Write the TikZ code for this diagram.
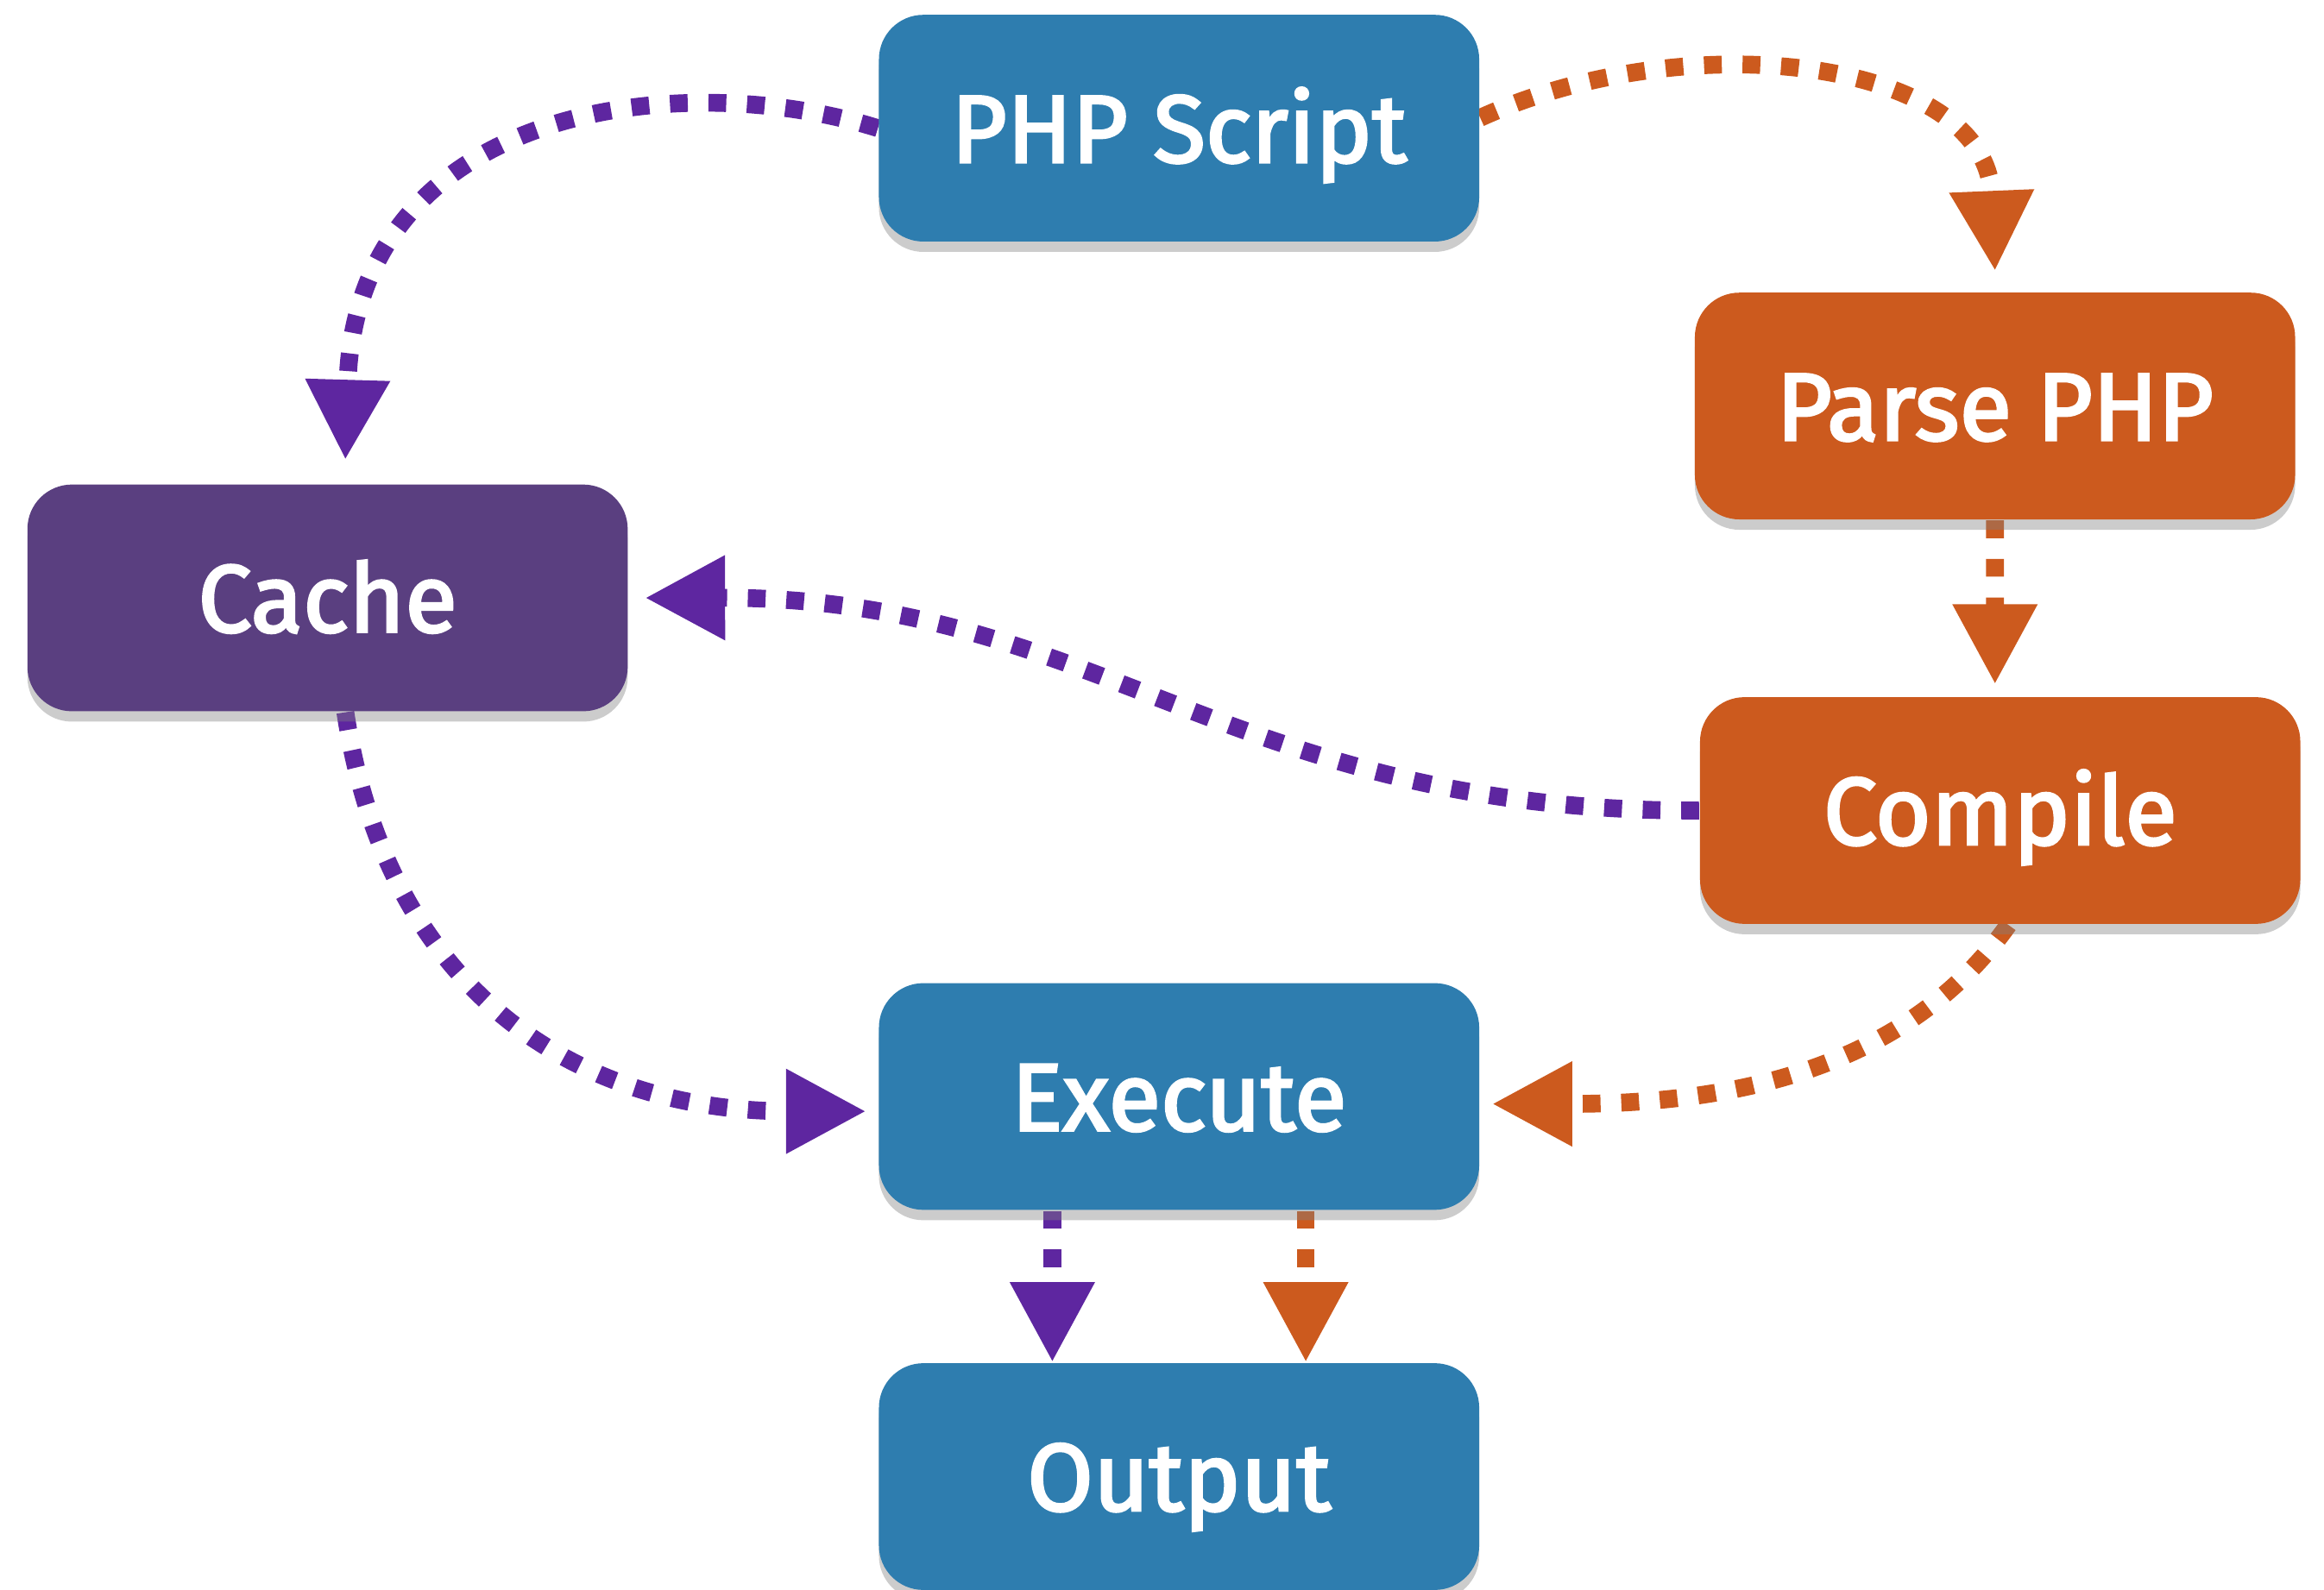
\documentclass[tikz,border=0pt]{standalone}
\usepackage{fontspec}
\setmainfont{Fira Sans}
\newfontfamily\boxfont{Fira Sans}[FakeBold=2.6]
\usepackage{xcolor}
\usepackage{tikz}
\usetikzlibrary{calc}
\usetikzlibrary{arrows.meta}
\usetikzlibrary{shadows}
\usetikzlibrary{backgrounds}
\definecolor{phpblue}{RGB}{46,125,175}
\definecolor{phporange}{RGB}{204,90,30}
\definecolor{cachepurple}{RGB}{90,63,128}
\definecolor{flowpurple}{RGB}{94,38,160}

\begin{document}
\begin{tikzpicture}[transform shape,scale=1,
		box/.style={rounded corners=0.3cm,minimum width=4.05cm,minimum height=1.53cm,text=white,
			font=\boxfont\fontsize{18.4}{22}\selectfont,text height=0.46cm,text depth=0pt,
			drop shadow={shadow xshift=0pt,shadow yshift=-0.7mm,opacity=0.4}},
		flow/.style={line width=0.12cm,dash pattern=on 0.12cm off 0.14cm,
			-{Triangle[length=0.54cm,width=0.54cm]}}]
		\useasboundingbox (0,0) rectangle (15.68,-10.73);
		\node[box,fill=phpblue] (php) at (7.955,-0.865) {PHP Script};
		\node[box,fill=phporange] (parse) at (13.46,-2.74) {Parse PHP};
		\node[box,fill=cachepurple] (cache) at (2.21,-4.035) {Cache};
		\node[box,fill=phporange] (compile) at (13.495,-5.47) {Compile};
		\node[box,fill=phpblue] (execute) at (7.955,-7.40) {Execute};
		\node[box,fill=phpblue] (output) at (7.955,-9.965) {Output};
		\begin{scope}[on background layer]
		\draw[flow,flowpurple] (php.west) .. controls (4.6,-0.45) and (2.4,-0.7) .. ($(cache.north)+(0.12,0.16)$);
		\draw[flow,phporange] ([yshift=0.07cm]php.east) .. controls (11.4,-0.15) and (13.4,-0.4) .. ($(parse.north)+(0,0.14)$);
		\draw[flow,phporange] (parse.south) -- ($(compile.north)+(-0.035,0.08)$);
		\draw[flow,flowpurple] (compile.west) .. controls (8.3,-5.48) and (7.4,-4.03) .. ($(cache.east)+(0.11,0)$);
		\draw[flow,flowpurple] ($(cache.south)+(0.12,0)$) .. controls (2.6,-6.6) and (3.8,-7.5) .. ($(execute.west)+(-0.08,-0.1)$);
		\draw[flow,phporange] ($(compile.south)+(0.055,0)$) .. controls (12.8,-7.3) and (11.5,-7.45) .. ($(execute.east)+(0.08,-0.05)$);
		\draw[flow,flowpurple] ($(execute.south)+(-0.855,0)$) -- ($(output.north)+(-0.855,0)$);
		\draw[flow,phporange] ($(execute.south)+(0.855,0)$) -- ($(output.north)+(0.855,0)$);
		\end{scope}
	\end{tikzpicture}
\end{document}
